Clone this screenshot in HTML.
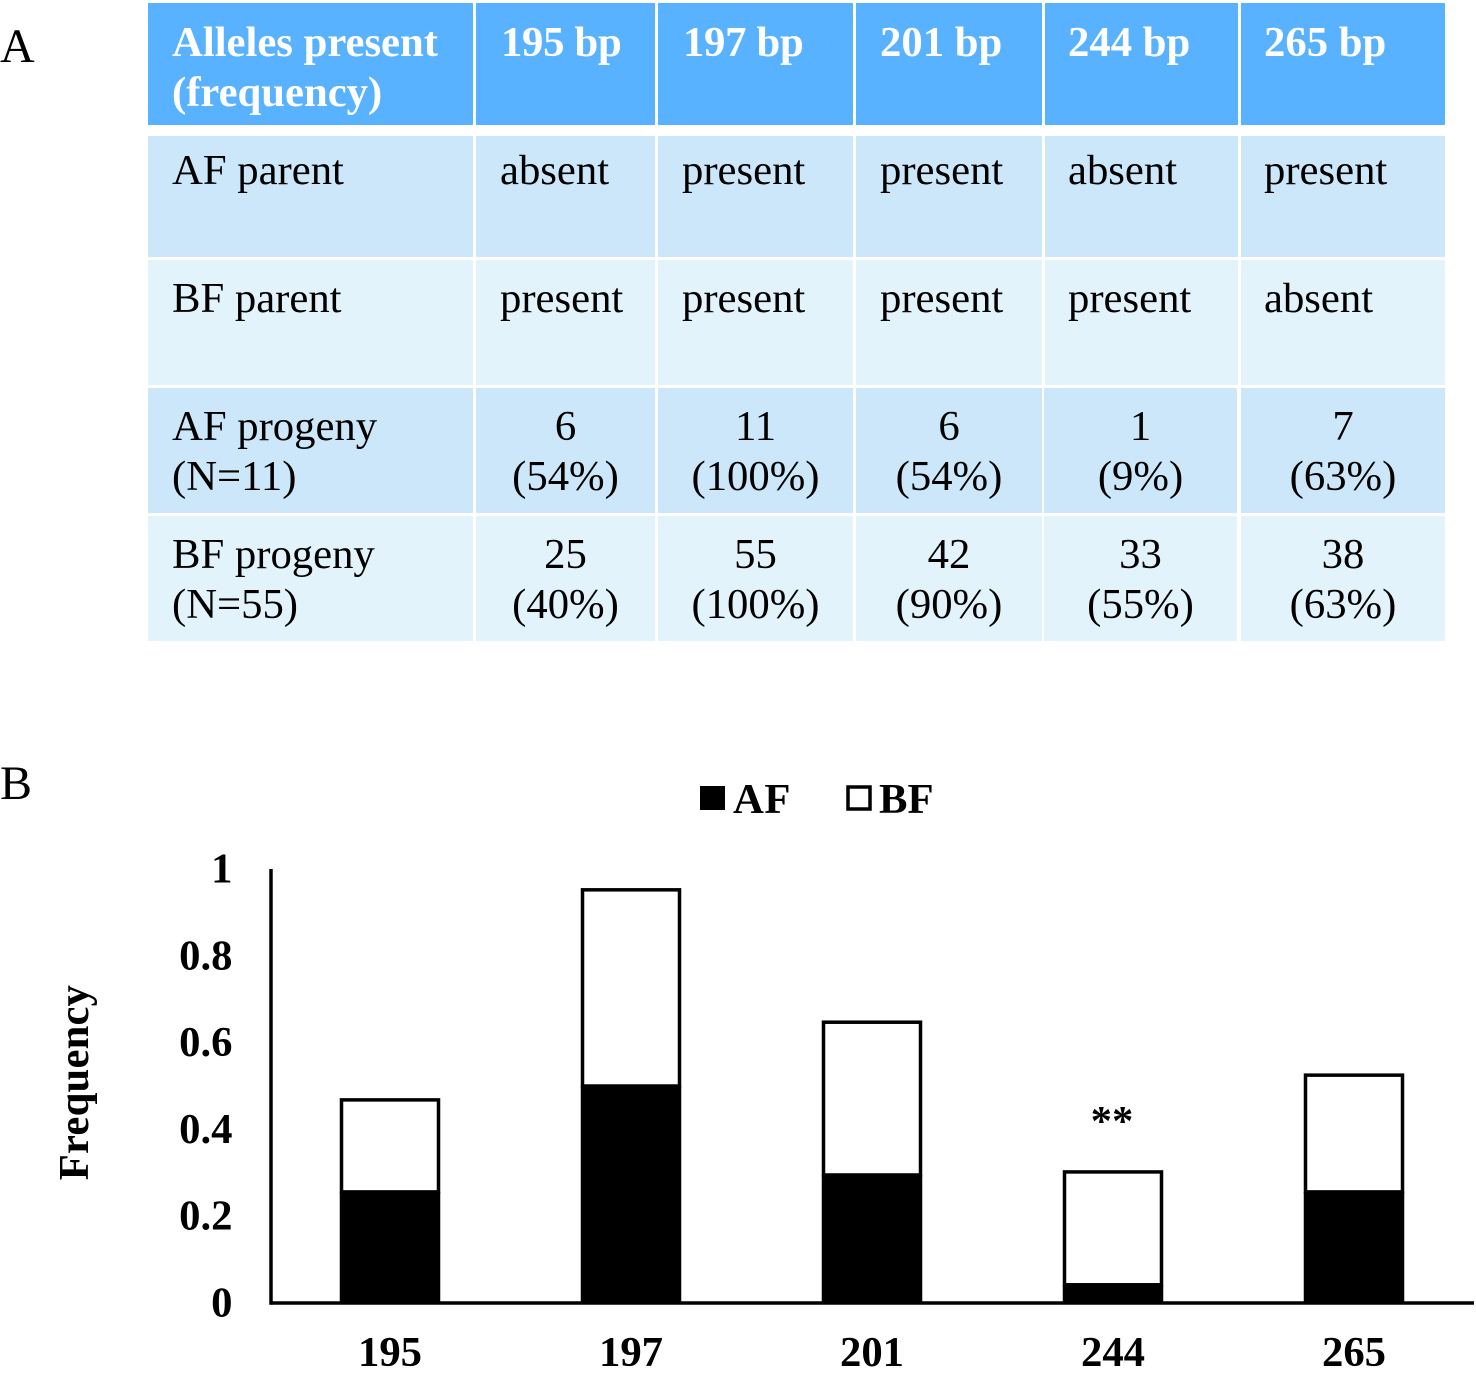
<!DOCTYPE html>
<html lang="en">
<head>
<meta charset="utf-8">
<title>Allele frequency table and chart</title>
<style>
  html, body { margin: 0; padding: 0; background: #fff; }
  #page { position: relative; width: 1476px; height: 1379px; overflow: hidden; background: #fff;
    font-family: "Liberation Serif", serif; color: #000; font-size: 42.7px; line-height: 50px; }
  .panel { position: absolute; left: 0; font-size: 48px; line-height: 50px; }
  .cell { position: absolute; box-sizing: border-box; white-space: nowrap; }
  .h { background: #58b2ff; color: #fff; font-weight: bold; }
  .d { background: #cbe7f9; }
  .l { background: #e3f3fb; }
  .c { text-align: center; }
  svg { position: absolute; left: 0; top: 0; }
  svg text { font-family: "Liberation Serif", serif; font-weight: bold; font-size: 42.7px; fill: #000; }
</style>
</head>
<body>
<div id="page">
  <div class="panel" style="top:22px">A</div>
  <div class="panel" style="top:759px">B</div>

  <div>
    <div class="cell h" style="left:148px;top:3px;width:325px;height:122px;padding:15px 0 0 24px">Alleles present<br>(frequency)</div>
    <div class="cell h" style="left:476px;top:3px;width:179px;height:122px;padding:15px 0 0 25px;letter-spacing:-0.3px">195 bp</div>
    <div class="cell h" style="left:658px;top:3px;width:195px;height:122px;padding:15px 0 0 25px;letter-spacing:-0.3px">197 bp</div>
    <div class="cell h" style="left:856px;top:3px;width:186px;height:122px;padding:15px 0 0 24px">201 bp</div>
    <div class="cell h" style="left:1045px;top:3px;width:193px;height:122px;padding:15px 0 0 23px">244 bp</div>
    <div class="cell h" style="left:1241px;top:3px;width:204px;height:122px;padding:15px 0 0 23px">265 bp</div>

    <div class="cell d" style="left:148px;top:136px;width:325px;height:121px;padding:10px 0 0 24px">AF parent</div>
    <div class="cell d" style="left:476px;top:136px;width:179px;height:121px;padding:10px 0 0 24px">absent</div>
    <div class="cell d" style="left:658px;top:136px;width:195px;height:121px;padding:10px 0 0 24px">present</div>
    <div class="cell d" style="left:856px;top:136px;width:186px;height:121px;padding:10px 0 0 24px">present</div>
    <div class="cell d" style="left:1045px;top:136px;width:193px;height:121px;padding:10px 0 0 23px">absent</div>
    <div class="cell d" style="left:1241px;top:136px;width:204px;height:121px;padding:10px 0 0 23px">present</div>

    <div class="cell l" style="left:148px;top:260px;width:325px;height:125px;padding:14px 0 0 24px">BF parent</div>
    <div class="cell l" style="left:476px;top:260px;width:179px;height:125px;padding:14px 0 0 24px">present</div>
    <div class="cell l" style="left:658px;top:260px;width:195px;height:125px;padding:14px 0 0 24px">present</div>
    <div class="cell l" style="left:856px;top:260px;width:186px;height:125px;padding:14px 0 0 24px">present</div>
    <div class="cell l" style="left:1045px;top:260px;width:193px;height:125px;padding:14px 0 0 23px">present</div>
    <div class="cell l" style="left:1241px;top:260px;width:204px;height:125px;padding:14px 0 0 23px">absent</div>

    <div class="cell d" style="left:148px;top:388px;width:325px;height:125px;padding:14px 0 0 24px">AF progeny<br>(N=11)</div>
    <div class="cell d c" style="left:476px;top:388px;width:179px;height:125px;padding-top:14px">6<br>(54%)</div>
    <div class="cell d c" style="left:658px;top:388px;width:195px;height:125px;padding-top:14px">11<br>(100%)</div>
    <div class="cell d c" style="left:856px;top:388px;width:186px;height:125px;padding-top:14px">6<br>(54%)</div>
    <div class="cell d c" style="left:1044px;top:388px;width:193px;height:125px;padding-top:14px">1<br>(9%)</div>
    <div class="cell d c" style="left:1241px;top:388px;width:204px;height:125px;padding-top:14px">7<br>(63%)</div>

    <div class="cell l" style="left:148px;top:516px;width:325px;height:125px;padding:14px 0 0 24px">BF progeny<br>(N=55)</div>
    <div class="cell l c" style="left:476px;top:516px;width:179px;height:125px;padding-top:14px">25<br>(40%)</div>
    <div class="cell l c" style="left:658px;top:516px;width:195px;height:125px;padding-top:14px">55<br>(100%)</div>
    <div class="cell l c" style="left:856px;top:516px;width:186px;height:125px;padding-top:14px">42<br>(90%)</div>
    <div class="cell l c" style="left:1044px;top:516px;width:193px;height:125px;padding-top:14px">33<br>(55%)</div>
    <div class="cell l c" style="left:1241px;top:516px;width:204px;height:125px;padding-top:14px">38<br>(63%)</div>
  </div>

  <svg id="chart" width="1476" height="1379" viewBox="0 0 1476 1379" xmlns="http://www.w3.org/2000/svg">
    <g id="legend">
      <rect x="701" y="787" width="23" height="22" fill="#000" stroke="#000" stroke-width="2"/>
      <text x="733" y="813" letter-spacing="0.5">AF</text>
      <rect x="848" y="787" width="22" height="22" fill="#fff" stroke="#000" stroke-width="3.5"/>
      <text x="879" y="813">BF</text>
    </g>
    <text transform="translate(88 1082.5) rotate(-90)" text-anchor="middle" letter-spacing="0.2">Frequency</text>
  </svg>
</div>

<script>
const categories = ['195', '197', '201', '244', '265'];
const afValues = [0.256, 0.500, 0.295, 0.042, 0.256];
const bfValues = [0.212, 0.452, 0.352, 0.260, 0.269];
const yTicks = [0, 0.2, 0.4, 0.6, 0.8, 1];
const yTickLabels = ['0', '0.2', '0.4', '0.6', '0.8', '1'];
const annotations = ['', '', '', '**', ''];

const svg = document.getElementById('chart');
const NS = 'http://www.w3.org/2000/svg';
const plotLeft = 271, plotRight = 1474, plotBottom = 1303, plotTop = 869;
const barWidth = 97;
const bandLeft = 270, bandStep = 241;

function yScale(v) { return plotBottom - v * (plotBottom - plotTop); }
function xCenter(i) { return bandLeft + bandStep * (i + 0.5) - 0.5; }
function make(tag, attrs, text) {
  const el = document.createElementNS(NS, tag);
  for (const k in attrs) el.setAttribute(k, attrs[k]);
  if (text !== undefined) el.textContent = text;
  svg.appendChild(el);
  return el;
}

categories.forEach(function (cat, i) {
  const cx = xCenter(i);
  const afTop = yScale(afValues[i]);
  const total = afValues[i] + bfValues[i];
  const totalTop = yScale(total);

  const bf = make('rect', { x: cx - barWidth / 2, y: totalTop, width: barWidth, height: afTop - totalTop, fill: '#fff', stroke: '#000', 'stroke-width': 3.5 });
  
  

  const af = make('rect', { x: cx - barWidth / 2 - 1.75, y: afTop, width: barWidth + 3.5, height: plotBottom - afTop, fill: '#000' });
  
  

  const label = make('text', { x: cx, y: 1366, 'text-anchor': 'middle' }, cat);
  
  

  if (annotations[i]) {
    const note = make('text', { x: cx - 1, y: totalTop - 37, 'text-anchor': 'middle' }, annotations[i]);
    
    
  }
});

yTicks.forEach(function (t, i) {
  const lab = make('text', { x: 232.5, y: yScale(t) + 13.5, 'text-anchor': 'end' }, yTickLabels[i]);
  
  
});

const yAxis = make('line', { x1: plotLeft, y1: plotTop, x2: plotLeft, y2: plotBottom + 1.75, stroke: '#000', 'stroke-width': 3.5 });



const xAxis = make('line', { x1: plotLeft, y1: plotBottom, x2: plotRight, y2: plotBottom, stroke: '#000', 'stroke-width': 3.5 });


</script>
</body>
</html>
